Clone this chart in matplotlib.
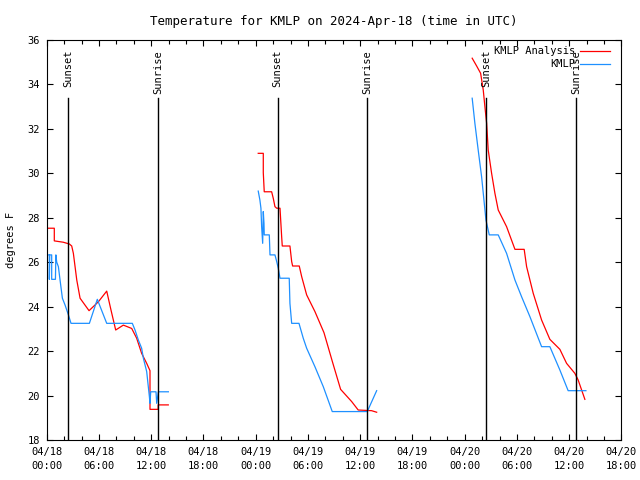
#!/usr/bin/env python3
"""Temperature for KMLP, analysis vs observations, gnuplot-style."""

import numpy as np
import matplotlib
matplotlib.use('Agg')
import matplotlib.pyplot as plt

# hours since 2024-04-18 00:00 UTC
ana1_t = [0.0, 0.87, 0.87, 1.9, 2.6, 2.87, 3.06, 3.45, 3.83, 4.86, 5.93, 6.89, 7.38,
          7.92, 8.8, 9.76, 10.33, 10.9, 11.48, 11.86, 11.86, 12.8, 12.8, 13.96]
ana1_v = [27.53, 27.53, 26.96, 26.9, 26.82, 26.73, 26.4, 25.2, 24.38, 23.82, 24.22, 24.7, 23.85,
          22.95, 23.17, 23.02, 22.58, 21.9, 21.45, 21.12, 19.38, 19.38, 19.58, 19.58]

ana2_t = [24.29, 24.87, 24.87, 24.98, 25.83, 26.02, 26.21, 26.41, 26.79, 26.98, 27.05, 27.93,
          28.13, 28.24, 29.0, 29.28, 29.85, 30.8, 31.84, 32.84, 33.75, 35.02, 35.77, 37.31, 37.89]
ana2_v = [30.9, 30.9, 30.03, 29.17, 29.17, 28.87, 28.5, 28.43, 28.43, 27.15, 26.73, 26.73,
          26.03, 25.83, 25.83, 25.35, 24.53, 23.78, 22.83, 21.48, 20.28, 19.73, 19.35, 19.32, 19.25]

ana3_t = [48.86, 49.37, 49.83, 50.13, 50.32, 50.52, 50.7, 51.09, 51.47, 51.85, 52.81, 53.77,
          54.83, 55.11, 55.87, 56.83, 57.78, 58.93, 59.7, 60.65, 61.03, 61.8]
ana3_v = [35.18, 34.83, 34.5, 33.75, 33.0, 32.25, 31.05, 30.0, 29.1, 28.35, 27.6, 26.58,
          26.58, 25.8, 24.6, 23.4, 22.53, 22.08, 21.45, 21.0, 20.7, 19.83]

obs1_t = [0.0, 0.3, 0.3, 0.35, 0.57, 0.57, 1.0, 1.05, 1.15, 1.34, 1.53, 1.8, 2.1, 2.49, 2.79,
          4.9, 5.81, 6.89, 9.83, 10.14, 10.52, 10.9, 11.1, 11.48, 11.79, 11.86, 11.94, 12.55,
          12.63, 12.82, 13.97]
obs1_v = [26.33, 26.33, 25.23, 26.33, 26.33, 25.23, 25.23, 26.33, 26.0, 25.8, 25.2, 24.38, 24.08,
          23.63, 23.25, 23.25, 24.33, 23.25, 23.25, 22.95, 22.5, 22.13, 21.68, 21.08, 19.95,
          19.65, 20.17, 20.17, 19.65, 20.17, 20.17]

obs2_t = [24.29, 24.48, 24.6, 24.68, 24.8, 24.87, 24.95, 24.98, 25.56, 25.64, 26.21, 26.41,
          26.59, 26.79, 27.85, 27.93, 28.13, 28.97, 29.46, 29.85, 30.8, 31.76, 32.79, 36.81, 37.89]
obs2_v = [29.2, 28.8, 28.43, 27.6, 26.85, 28.28, 27.75, 27.23, 27.23, 26.33, 26.33, 26.03,
          25.73, 25.28, 25.28, 24.15, 23.25, 23.25, 22.58, 22.13, 21.3, 20.4, 19.28, 19.28, 20.22]

obs3_t = [48.86, 49.17, 49.55, 49.94, 50.21, 50.44, 50.82, 51.85, 52.81, 53.77, 54.53, 55.49,
          56.83, 57.78, 58.93, 59.88, 61.92]
obs3_v = [33.38, 32.25, 31.05, 29.85, 28.8, 27.9, 27.23, 27.23, 26.4, 25.2, 24.45, 23.55,
          22.2, 22.2, 21.15, 20.22, 20.22]

sun_t = [2.48, 12.81, 26.52, 36.81, 50.44, 60.8]
sun_lbl = ['Sunset', 'Sunrise', 'Sunset', 'Sunrise', 'Sunset', 'Sunrise']

xtick_pos = np.arange(0, 67, 6)
xtick_lbl = ['04/18\n00:00', '04/18\n06:00', '04/18\n12:00', '04/18\n18:00',
             '04/19\n00:00', '04/19\n06:00', '04/19\n12:00', '04/19\n18:00',
             '04/20\n00:00', '04/20\n06:00', '04/20\n12:00', '04/20\n18:00']

plt.rcParams['font.family'] = ['DejaVu Sans Mono']
plt.rcParams['font.size'] = 7.5

fig = plt.figure(figsize=(6.4, 4.8), dpi=100)
ax = fig.add_axes([0.073, 0.0833, 0.898, 0.8334])

red = '#ff0000'
blue = '#1e90ff'
ax.plot(ana1_t, ana1_v, color=red, lw=0.9, label='KMLP Analysis')
ax.plot(ana2_t, ana2_v, color=red, lw=0.9)
ax.plot(ana3_t, ana3_v, color=red, lw=0.9)
ax.plot(obs1_t, obs1_v, color=blue, lw=0.9, label='KMLP')
ax.plot(obs2_t, obs2_v, color=blue, lw=0.9)
ax.plot(obs3_t, obs3_v, color=blue, lw=0.9)

for t, lbl in zip(sun_t, sun_lbl):
    ax.plot([t, t], [18, 33.4], color='black', lw=1.0)
    ax.text(t, 35.55, lbl, rotation=90, ha='center', va='top')

ax.set_xlim(0, 66)
ax.set_ylim(18, 36)
ax.set_xticks(xtick_pos)
ax.set_xticklabels(xtick_lbl, linespacing=1.45)
ax.set_xticks(np.arange(0, 67, 2), minor=True)
ax.set_yticks(np.arange(18, 37, 2))
ax.tick_params(which='both', direction='in', top=True, right=True, width=0.8)
ax.tick_params(which='major', length=4, pad=5)
ax.tick_params(which='minor', length=3)
ax.set_ylabel('degrees F', labelpad=8)
ax.set_title('Temperature for KMLP on 2024-Apr-18 (time in UTC)', pad=11)

ax.legend(loc='upper right', bbox_to_anchor=(0.982, 0.987), frameon=False,
          markerfirst=False, handlelength=2.9, handletextpad=0.4,
          labelspacing=0.3, borderaxespad=0.0, borderpad=0.1)

fig.savefig('out.png', dpi=100)
